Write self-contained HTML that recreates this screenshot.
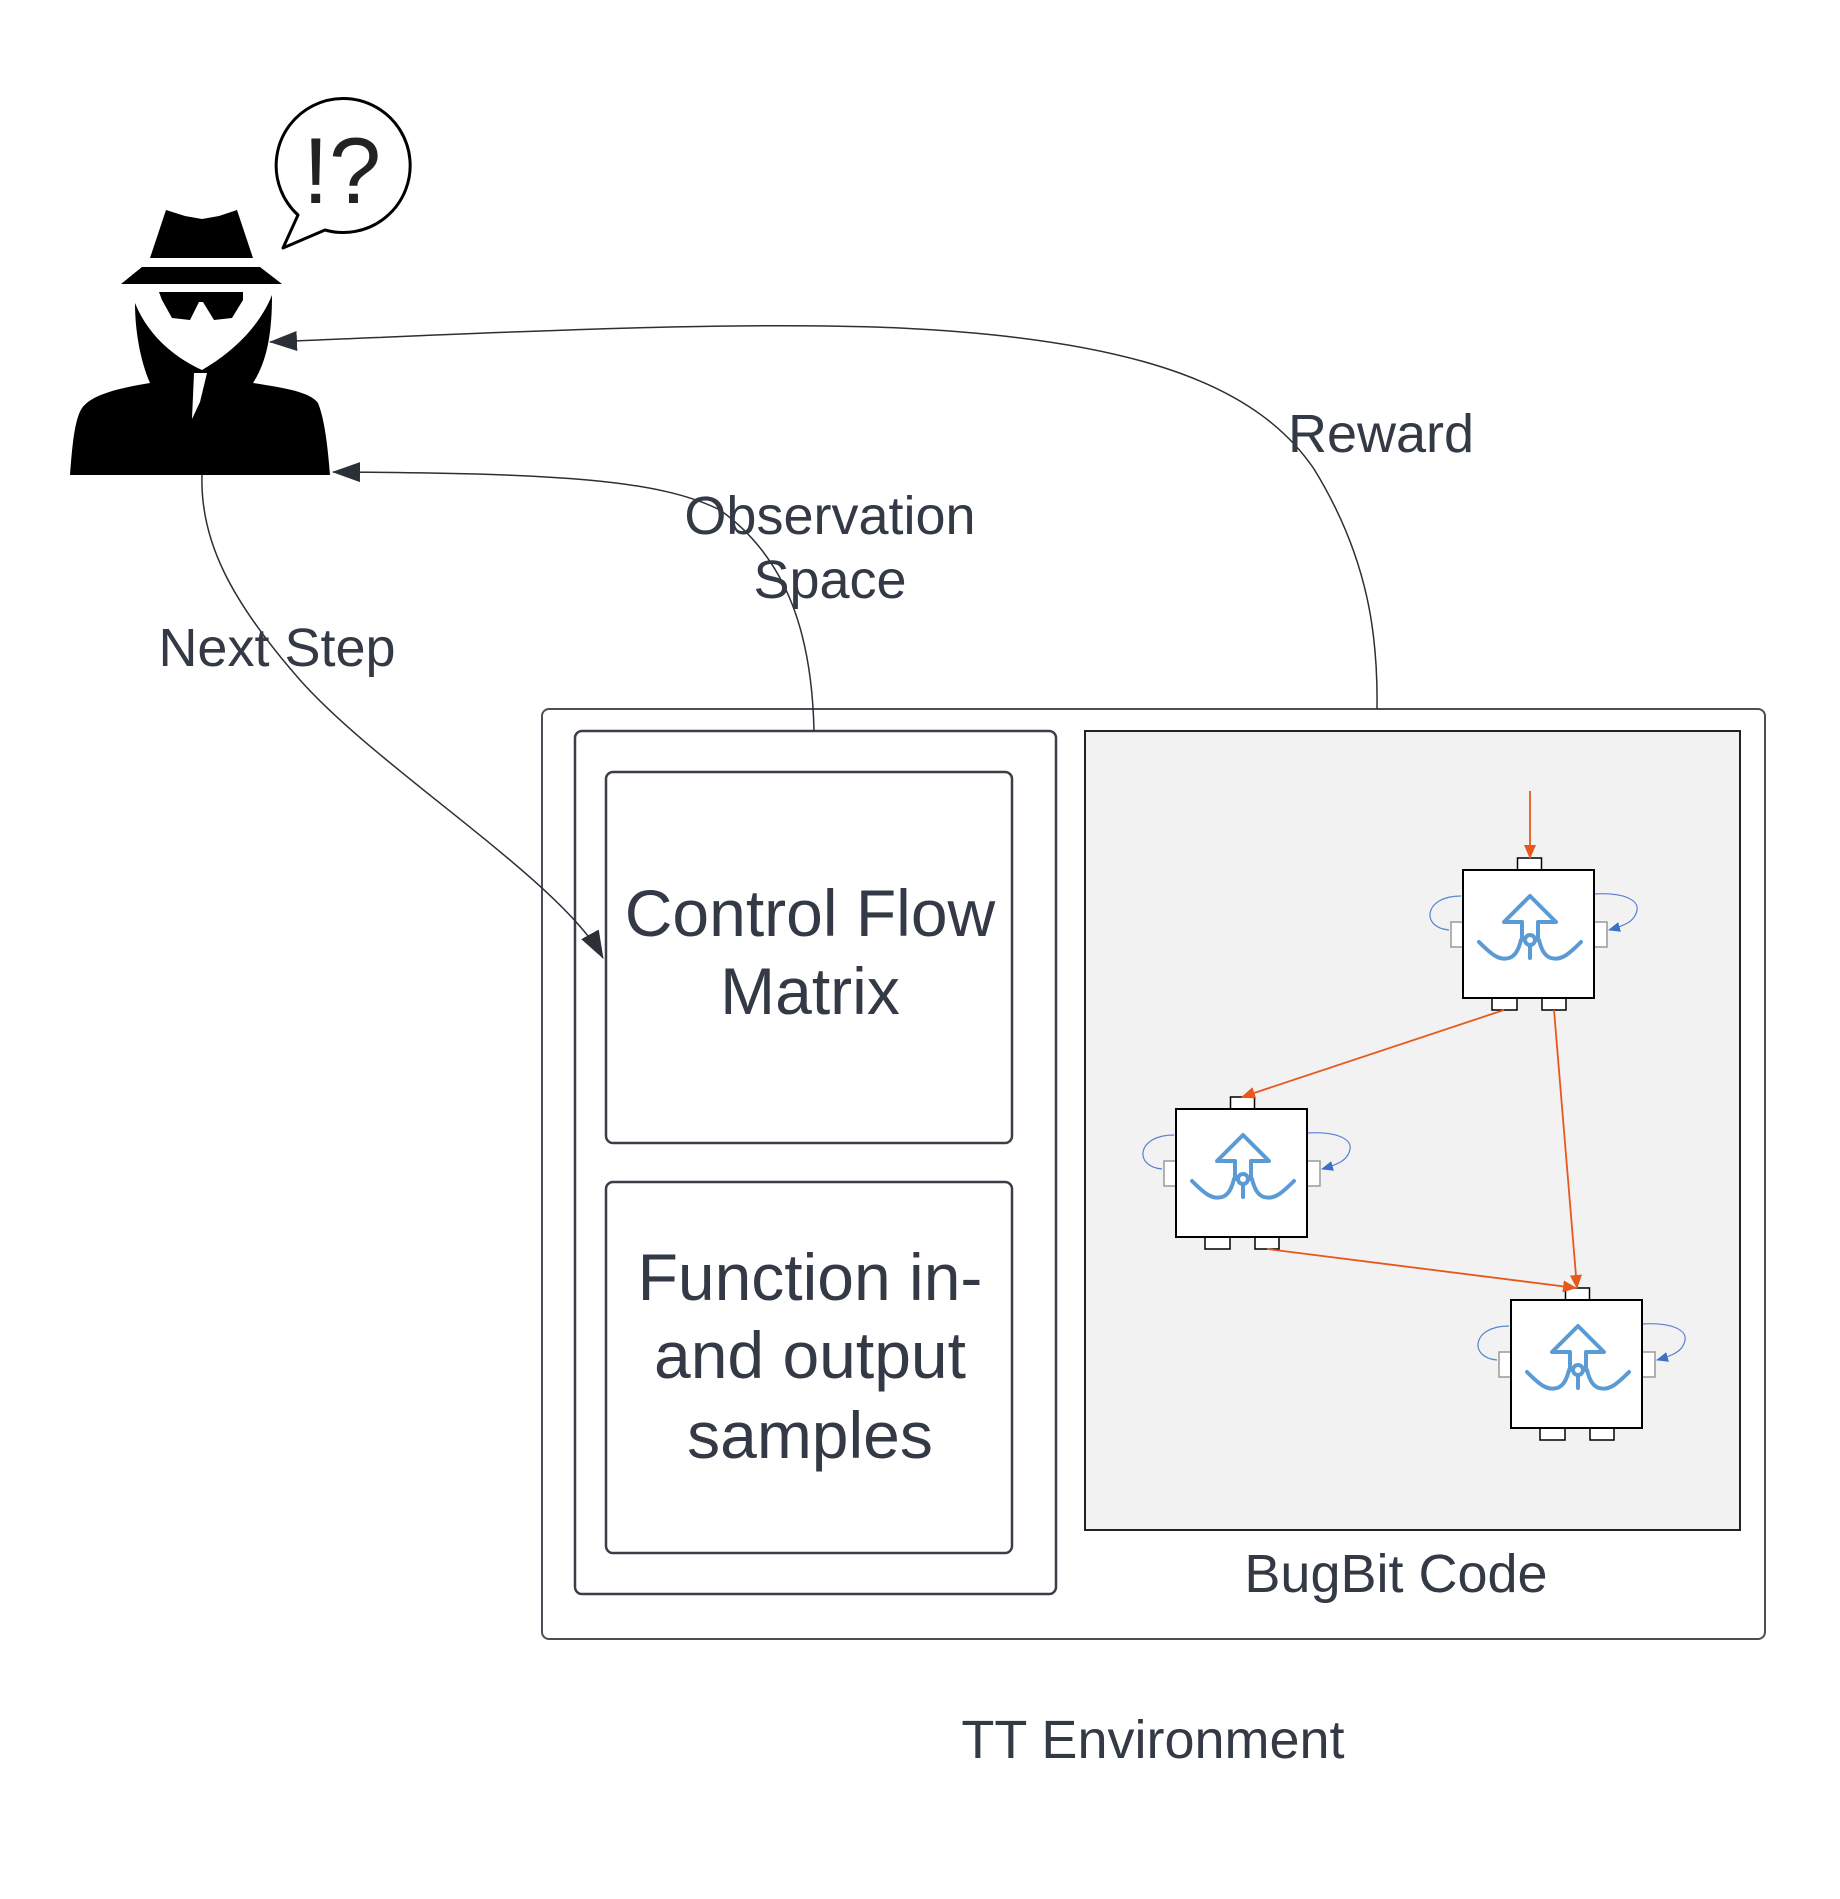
<!DOCTYPE html>
<html><head><meta charset="utf-8"><style>
html,body{margin:0;padding:0;background:#fff}
svg{display:block}
text{font-family:"Liberation Sans",sans-serif;fill:#333a45}
</style></head><body>
<svg width="1840" height="1899" viewBox="0 0 1840 1899" xmlns="http://www.w3.org/2000/svg">
<defs>
<marker id="abig" markerWidth="28" markerHeight="20" refX="27" refY="10" orient="auto" markerUnits="userSpaceOnUse"><path d="M0,0 L28,10 L0,20 Z" fill="#2b2f36"/></marker>
<marker id="ao" markerWidth="14" markerHeight="12" refX="13" refY="6" orient="auto" markerUnits="userSpaceOnUse"><path d="M0,0 L14,6 L0,12 Z" fill="#e8581c"/></marker>
<marker id="abl" markerWidth="12" markerHeight="10" refX="11" refY="5" orient="auto" markerUnits="userSpaceOnUse"><path d="M0,0 L12,5 L0,10 Z" fill="#3d6fc4"/></marker>
<g id="node">
  <path d="M-2,26 C-40,26 -42,58 -14,60" fill="none" stroke="#5a7fd0" stroke-width="1.2"/>
  <path d="M131,24 C160,22 176,30 174,40 C172,52 160,56 146,60" fill="none" stroke="#5a7fd0" stroke-width="1.2" marker-end="url(#abl)"/>
  <rect x="-12" y="52" width="12" height="25" fill="#fff" stroke="#999" stroke-width="1.5"/>
  <rect x="131" y="52" width="13" height="25" fill="#fff" stroke="#999" stroke-width="1.5"/>
  <rect x="54.5" y="-12" width="24" height="12" fill="#fff" stroke="#000" stroke-width="1.5"/>
  <rect x="29" y="128" width="25" height="12" fill="#fff" stroke="#000" stroke-width="1.5"/>
  <rect x="79" y="128" width="24" height="12" fill="#fff" stroke="#000" stroke-width="1.5"/>
  <rect x="0" y="0" width="131" height="128" fill="#fff" stroke="#000" stroke-width="2"/>
  <g fill="none" stroke="#5b9bd5" stroke-width="4" stroke-linejoin="round" stroke-linecap="round">
    <path d="M59,70 L59,52 L41,52 L67,26 L93,52 L75,52 L75,70"/>
    <circle cx="67" cy="70" r="5"/>
    <path d="M67,76 L67,88"/>
    <path d="M16,72 C28,84 36,91 46,88 C53,86 56,78 58,70"/>
    <path d="M118,72 C106,84 98,91 88,88 C81,86 78,78 76,70"/>
  </g>
</g>
</defs>

<g fill="#000">
  <path d="M166,210 L185,216 L202,219 L219,216 L237,210 L253,258 L150,258 Z"/>
  <path d="M142,267 L260,267 L282,284 L121,284 Z"/>
  <path d="M159,292 L243,292 L243,300 L232,318 L214,320 L203,302 L199,302 L190,320 L172,318 L162,300 Z"/>
  <path d="M135,303 C150,340 180,360 202,370 C228,355 258,330 272,295 C272,330 268,360 253,383 C285,388 310,392 318,403 C325,420 328,450 330,475 L70,475 C72,450 74,420 82,408 C92,394 120,388 150,383 C140,360 135,330 135,303 Z"/>
</g>
<path d="M194,373 L207,373 L200,402 L192,419 Z" fill="#fff"/>
<path d="M298,215 A67,67 0 1 1 325,230 L283,248 Z" fill="#fff" stroke="#000" stroke-width="3" stroke-linejoin="round"/>
<text x="342" y="203" font-size="94" text-anchor="middle" style="fill:#222">!?</text>

<rect x="542" y="709" width="1223" height="930" rx="7" fill="none" stroke="#4a4f57" stroke-width="2"/>
<rect x="575" y="731" width="481" height="863" rx="7" fill="none" stroke="#3a3f47" stroke-width="2.5"/>
<rect x="606" y="772" width="406" height="371" rx="7" fill="none" stroke="#3a3f47" stroke-width="2.5"/>
<rect x="606" y="1182" width="406" height="371" rx="7" fill="none" stroke="#3a3f47" stroke-width="2.5"/>
<rect x="1085" y="731" width="655" height="799" fill="#f2f2f2" stroke="#222" stroke-width="2"/>

<text x="810" y="936" font-size="66" text-anchor="middle">Control Flow</text>
<text x="810" y="1014" font-size="66" text-anchor="middle">Matrix</text>
<text x="810" y="1300" font-size="66" text-anchor="middle">Function in-</text>
<text x="810" y="1378" font-size="66" text-anchor="middle">and output</text>
<text x="810" y="1458" font-size="66" text-anchor="middle">samples</text>
<text x="1396" y="1592" font-size="54" text-anchor="middle">BugBit Code</text>
<text x="1153" y="1758" font-size="54" text-anchor="middle">TT Environment</text>

<path d="M1377,709 C1378,640 1370,560 1314,469 C1260,390 1150,340 900,328 C720,320 450,335 270,342" fill="none" stroke="#2b2f36" stroke-width="1.5" marker-end="url(#abig)"/>
<path d="M814,731 C812,640 790,560 720,510 C660,480 560,473 333,472" fill="none" stroke="#2b2f36" stroke-width="1.5" marker-end="url(#abig)"/>
<path d="M202,475 C200,540 230,600 300,680 C380,770 560,880 603,958" fill="none" stroke="#2b2f36" stroke-width="1.5" marker-end="url(#abig)"/>
<text x="1381" y="452" font-size="54" text-anchor="middle">Reward</text>
<text x="830" y="534" font-size="54" text-anchor="middle">Observation</text>
<text x="830" y="598" font-size="54" text-anchor="middle">Space</text>
<text x="277" y="666" font-size="54" text-anchor="middle">Next Step</text>

<use href="#node" x="1463" y="870"/>
<use href="#node" x="1176" y="1109"/>
<use href="#node" x="1511" y="1300"/>
<path d="M1530,791 L1530,858" stroke="#e8581c" stroke-width="1.8" marker-end="url(#ao)"/>
<path d="M1504,1010 L1242,1097" stroke="#e8581c" stroke-width="1.8" marker-end="url(#ao)"/>
<path d="M1554,1010 L1577,1288" stroke="#e8581c" stroke-width="1.8" marker-end="url(#ao)"/>
<path d="M1267,1249 L1576,1288" stroke="#e8581c" stroke-width="1.8" marker-end="url(#ao)"/>
</svg>
</body></html>
